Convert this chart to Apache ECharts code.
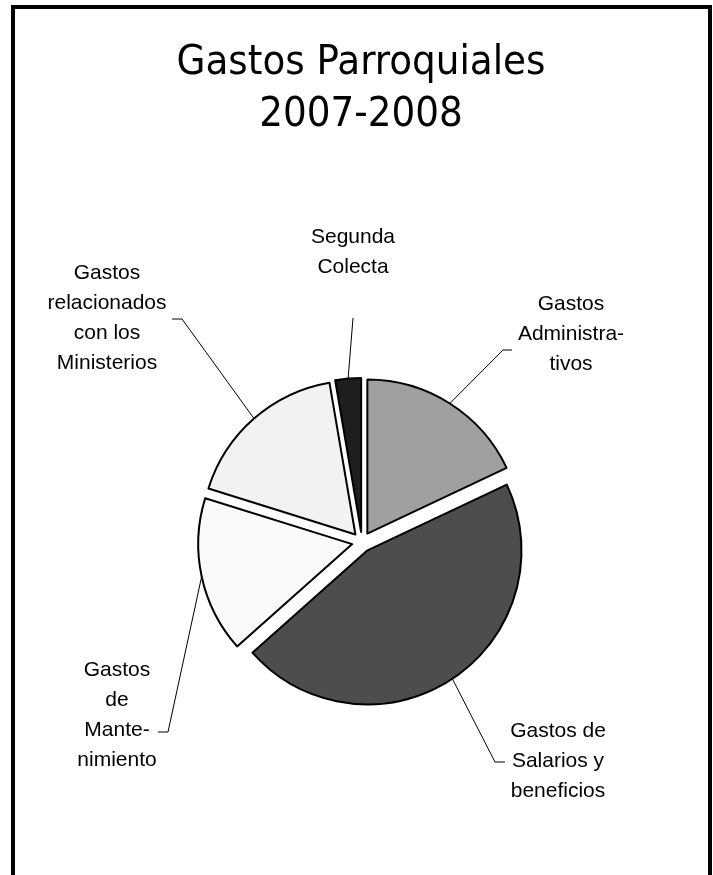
<!DOCTYPE html>
<html>
<head>
<meta charset="utf-8">
<script src="https://cdn.jsdelivr.net/npm/echarts@6/dist/echarts.min.js"></script>
<style>
  html, body { margin: 0; padding: 0; background: #ffffff; }
  #chart { width: 713px; height: 875px; }
</style>
</head>
<body>
<div id="chart"></div>
<script>
// ---- data ----
const categories = [
  'Gastos Administrativos',
  'Gastos de Salarios y beneficios',
  'Gastos de Mantenimiento',
  'Gastos relacionados con los Ministerios',
  'Segunda Colecta'
];
const labelTexts = [
  'Gastos\nAdministra-\ntivos',
  'Gastos de\nSalarios y\nbeneficios',
  'Gastos\nde\nMante-\nnimiento',
  'Gastos\nrelacionados\ncon los\nMinisterios',
  'Segunda\nColecta'
];
const values = [18.0, 45.5, 16.4, 17.5, 2.7];
const titleText = 'Gastos Parroquiales\n2007-2008';

// ---- styles / layout ----
const sliceColors = ['#a0a0a0', '#4d4d4d', '#fafafa', '#f2f2f2', '#1e1e1e'];
const PIE_CENTER = [362, 542];
const PIE_RADIUS = 154;
const EXPLODE = 10;
// label block centres, and leader-line ends near each label (layout only)
const labelPos = [[571, 334], [558, 761], [117, 715], [107, 318], [353, 252]];
const leaderEnds = [
  [[503, 350], [512, 350]],
  [[495, 762], [505, 762]],
  [[168, 732], [158, 732]],
  [[182, 319], [172, 319]],
  [[353, 318]]
];

const chart = echarts.init(document.getElementById('chart'), null, { renderer: 'canvas' });

const data = categories.map((name, i) => ({
  name: name,
  value: values[i],
  selected: true,
  itemStyle: { color: sliceColors[i] }
}));

// anchor of each leader line: mid-angle point on the exploded slice's arc
const total = values.reduce((a, b) => a + b, 0);
let acc = 0;
const graphics = [];
values.forEach((v, i) => {
  const mid = (acc + v / 2) / total * Math.PI * 2; // clockwise from 12 o'clock
  acc += v;
  const dx = Math.sin(mid), dy = -Math.cos(mid);
  const anchor = [
    PIE_CENTER[0] + dx * (PIE_RADIUS + EXPLODE),
    PIE_CENTER[1] + dy * (PIE_RADIUS + EXPLODE)
  ];
  graphics.push({
    type: 'polyline',
    shape: { points: [anchor].concat(leaderEnds[i]) },
    style: { stroke: '#000000', lineWidth: 1, fill: 'none' },
    silent: true
  });
  graphics.push({
    type: 'text',
    x: labelPos[i][0],
    y: labelPos[i][1],
    style: {
      text: labelTexts[i],
      align: 'center',
      verticalAlign: 'middle',
      fontFamily: 'Liberation Sans',
      fontSize: 21,
      lineHeight: 30,
      fill: '#000000'
    },
    silent: true
  });
});
graphics.push({
  type: 'text',
  x: 361,
  y: 89,
  style: {
    text: titleText,
    align: 'center',
    verticalAlign: 'middle',
    fontFamily: 'DejaVu Sans Condensed',
    fontSize: 41.5,
    lineHeight: 52,
    fill: '#000000'
  },
  silent: true
});
graphics.push({
  type: 'rect',
  shape: { x: 13, y: 7, width: 697, height: 900 },
  style: { fill: 'none', stroke: '#000000', lineWidth: 4 },
  silent: true,
  z: 100
});

chart.setOption({
  animation: false,
  backgroundColor: '#ffffff',
  graphic: graphics,
  series: [{
    type: 'pie',
    center: PIE_CENTER,
    radius: [0, PIE_RADIUS],
    startAngle: 90,
    clockwise: true,
    selectedMode: 'multiple',
    selectedOffset: EXPLODE,
    avoidLabelOverlap: false,
    itemStyle: { borderColor: '#000000', borderWidth: 2 },
    emphasis: { disabled: true },
    label: { show: false },
    labelLine: { show: false },
    data: data
  }]
});
</script>
</body>
</html>
